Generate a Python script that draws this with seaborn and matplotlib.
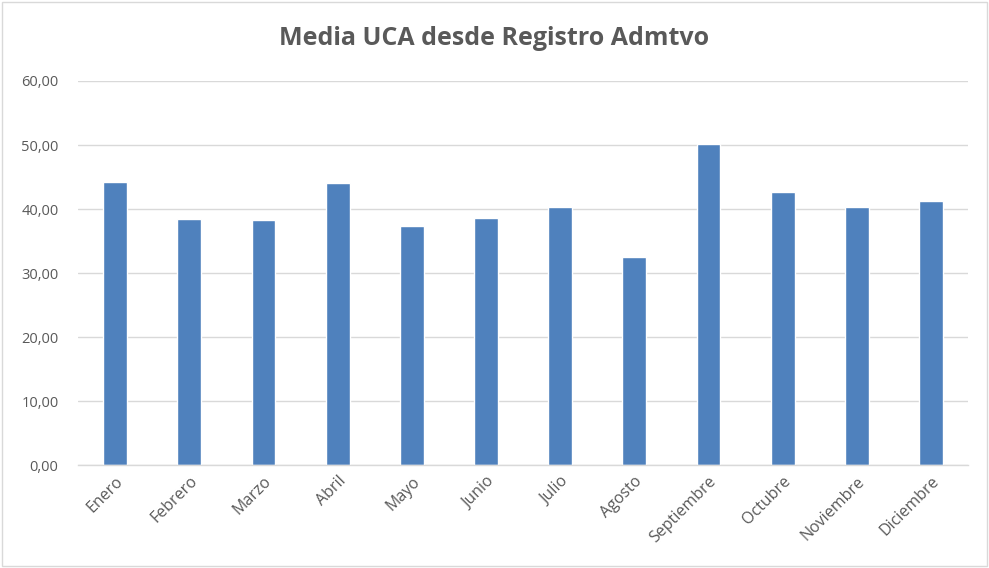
import matplotlib
matplotlib.use("Agg")
import matplotlib.pyplot as plt
import seaborn as sns
import pandas as pd
from matplotlib.ticker import FuncFormatter
from matplotlib.patches import Rectangle

# Data
meses = ["Enero", "Febrero", "Marzo", "Abril", "Mayo", "Junio", "Julio",
         "Agosto", "Septiembre", "Octubre", "Noviembre", "Diciembre"]
media_uca = [44.26, 38.49, 38.23, 44.06, 37.30, 38.64, 40.31,
             32.55, 50.10, 42.60, 40.27, 41.20]

df = pd.DataFrame({"Mes": meses, "Media": media_uca})

sns.set_style("white")
plt.rcParams["font.family"] = ["Open Sans", "DejaVu Sans"]

fig = plt.figure(figsize=(9.89, 5.68), dpi=100)
ax = fig.add_axes([0.0789, 0.1813, 0.9, 0.6761])

sns.barplot(data=df, x="Mes", y="Media", color="#4F81BD", saturation=1,
            width=0.32, ax=ax)

ax.set_ylim(0, 60)
ax.set_yticks(range(0, 61, 10))
ax.yaxis.set_major_formatter(FuncFormatter(lambda v, p: f"{v:.2f}".replace(".", ",")))
ax.grid(axis="y", color="#d9d9d9", linewidth=1)
ax.set_axisbelow(True)
for s in ["top", "right", "left"]:
    ax.spines[s].set_visible(False)
ax.spines["bottom"].set_color("#d9d9d9")
ax.spines["bottom"].set_linewidth(1)

ax.set_xlabel("")
ax.set_ylabel("")
ax.tick_params(axis="both", length=0, colors="#595959")
ax.tick_params(axis="y", labelsize=10.5, pad=14)
ax.tick_params(axis="x", labelsize=11.5, pad=6)
plt.setp(ax.get_xticklabels(), rotation=45, ha="right", rotation_mode="anchor")

fig.text(0.5, 0.933, "Media UCA desde Registro Admtvo", ha="center", va="center",
         fontsize=18, fontweight="bold", color="#595959")

# light border around the chart
fig.patches.append(Rectangle((0.002, 0.003), 0.996, 0.994, transform=fig.transFigure,
                             fill=False, edgecolor="#d9d9d9", linewidth=1))

fig.savefig("out.png", dpi=100)
